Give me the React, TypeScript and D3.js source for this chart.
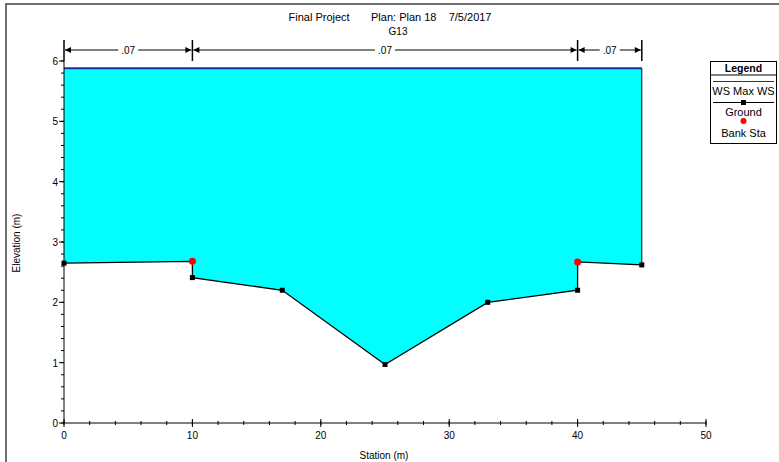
import React from "react";
import * as d3 from "d3";

const stations = [0, 10, 10, 17, 25, 33, 40, 40, 45];
const elevations = [2.65, 2.68, 2.41, 2.2, 0.97, 2.0, 2.2, 2.67, 2.62];
const bankStations = [10, 40];
const bankElevations = [2.68, 2.67];
const wsElevation = 5.88;
const nBoundaries = [0, 10, 40, 45];
const nValues = [".07", ".07", ".07"];
const xTicks = [0, 10, 20, 30, 40, 50];
const yTicks = [0, 1, 2, 3, 4, 5, 6];

const W = 779;
const H = 462;
const FONT = "'Liberation Sans', Arial, sans-serif";

export default function App() {
  const x = d3.scaleLinear().domain([0, 50]).range([64, 706]);
  const y = d3.scaleLinear().domain([0, 6]).range([423, 61]);

  const ground = stations.map((s, i) => [s, elevations[i]] as [number, number]);
  const lineGen = d3
    .line<[number, number]>()
    .x((d) => x(d[0]))
    .y((d) => y(d[1]));

  const waterPoly: [number, number][] = [
    [stations[0], wsElevation],
    ...ground,
    [stations[stations.length - 1], wsElevation],
  ];

  const xMinor = d3.range(0, 50.001, 2);
  const yMinor = d3.range(0, 6.001, 0.2);

  const nY = 50;
  const arrow = (px: number, dir: number, key: string) => (
    <path
      key={key}
      d={`M${px},${nY} L${px + dir * 6},${nY - 3} L${px + dir * 6},${nY + 3} Z`}
      fill="#000"
    />
  );

  return (
    <svg
      width={W}
      height={H}
      style={{ position: "absolute", left: 0, top: 0, display: "block", background: "#fff" }}
    >
      <rect x={6} y={4} width={800} height={500} fill="#fff" stroke="#404040" strokeWidth={1.5} />

      {/* Title */}
      <text x={390} y={21} textAnchor="middle" fontFamily={FONT} fontSize={11} fill="#000" style={{ whiteSpace: "pre" }}>
        {"Final Project       Plan: Plan 18    7/5/2017"}
      </text>
      <text x={398} y={35} textAnchor="middle" fontFamily={FONT} fontSize={10} fill="#000">
        G13
      </text>

      {/* Water */}
      <path d={lineGen(waterPoly) + "Z"} fill="#00FFFF" stroke="none" />
      <line x1={x(45)} x2={x(45)} y1={y(wsElevation)} y2={y(2.62)} stroke="#000" strokeWidth={1} />
      <line x1={x(0)} x2={x(45)} y1={y(wsElevation)} y2={y(wsElevation)} stroke="#1a2fa0" strokeWidth={2} />

      {/* Ground */}
      <path d={lineGen(ground) || ""} fill="none" stroke="#000" strokeWidth={1.3} />
      {ground.map((d, i) => (
        <rect key={"g" + i} x={x(d[0]) - 2.5} y={y(d[1]) - 2.5} width={5} height={5} fill="#000" />
      ))}
      {bankStations.map((s, i) => (
        <circle key={"b" + i} cx={x(s)} cy={y(bankElevations[i])} r={3.5} fill="#FF0000" />
      ))}

      {/* n values */}
      {nBoundaries.map((b, i) => (
        <line key={"nt" + i} x1={x(b)} x2={x(b)} y1={40} y2={61} stroke="#000" strokeWidth={i === 0 ? 1 : 1.5} />
      ))}
      {nValues.map((v, i) => {
        const a = x(nBoundaries[i]);
        const b = x(nBoundaries[i + 1]);
        const m = (a + b) / 2;
        return (
          <g key={"n" + i}>
            <line x1={a + 1} x2={m - 10} y1={nY} y2={nY} stroke="#000" strokeWidth={1} />
            <line x1={m + 10} x2={b - 1} y1={nY} y2={nY} stroke="#000" strokeWidth={1} />
            {arrow(a + 1, 1, "al")}
            {arrow(b - 1, -1, "ar")}
            <text x={m} y={nY + 3.5} textAnchor="middle" fontFamily={FONT} fontSize={10} fill="#000">
              {v}
            </text>
          </g>
        );
      })}

      {/* Axes */}
      <line x1={64} x2={64} y1={40} y2={423} stroke="#000" strokeWidth={1} />
      <line x1={64} x2={706} y1={423} y2={423} stroke="#000" strokeWidth={1} />
      {yMinor.map((v, i) => (
        <line key={"ym" + i} x1={61} x2={64} y1={y(v)} y2={y(v)} stroke="#000" strokeWidth={1} />
      ))}
      {yTicks.map((v) => (
        <g key={"yt" + v}>
          <line x1={59} x2={64} y1={y(v)} y2={y(v)} stroke="#000" strokeWidth={1} />
          <text x={58} y={y(v) + 4} textAnchor="end" fontFamily={FONT} fontSize={10} fill="#000">
            {v}
          </text>
        </g>
      ))}
      {xMinor.map((v, i) => (
        <line key={"xm" + i} x1={x(v)} x2={x(v)} y1={421} y2={425} stroke="#000" strokeWidth={1} />
      ))}
      {xTicks.map((v) => (
        <g key={"xt" + v}>
          <line x1={x(v)} x2={x(v)} y1={419} y2={427} stroke="#000" strokeWidth={1} />
          <text x={x(v)} y={439} textAnchor="middle" fontFamily={FONT} fontSize={10} fill="#000">
            {v}
          </text>
        </g>
      ))}
      <text x={384} y={459} textAnchor="middle" fontFamily={FONT} fontSize={10} fill="#000">
        Station (m)
      </text>
      <text
        transform="translate(20,243) rotate(-90)"
        textAnchor="middle"
        fontFamily={FONT}
        fontSize={10}
        fill="#000"
      >
        Elevation (m)
      </text>

      {/* Legend */}
      <g>
        <rect x={710.5} y={61.5} width={66} height={82} fill="#fff" stroke="#000" strokeWidth={1} />
        <line x1={710.5} x2={776.5} y1={75} y2={75} stroke="#000" strokeWidth={1} />
        <text x={743.5} y={71.5} textAnchor="middle" fontFamily={FONT} fontSize={10.5} fontWeight="bold" fill="#000">
          Legend
        </text>
        <line x1={713} x2={774} y1={81.5} y2={81.5} stroke="#1a2fa0" strokeWidth={1} />
        <text x={743.5} y={95} textAnchor="middle" fontFamily={FONT} fontSize={11} fill="#000">
          WS Max WS
        </text>
        <line x1={713} x2={774} y1={102.5} y2={102.5} stroke="#000" strokeWidth={1} />
        <rect x={741} y={100} width={5} height={5} fill="#000" />
        <text x={743.5} y={116} textAnchor="middle" fontFamily={FONT} fontSize={11} fill="#000">
          Ground
        </text>
        <circle cx={743.5} cy={121} r={3} fill="#FF0000" />
        <text x={743.5} y={137} textAnchor="middle" fontFamily={FONT} fontSize={11} fill="#000">
          Bank Sta
        </text>
      </g>
    </svg>
  );
}
